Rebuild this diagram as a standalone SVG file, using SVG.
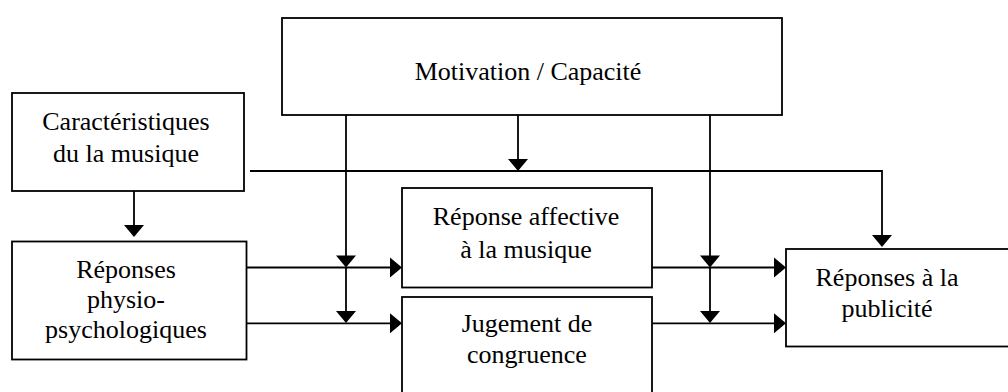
<svg xmlns="http://www.w3.org/2000/svg" width="1008" height="392" viewBox="0 0 1008 392">
<defs>
<style>
.box{fill:#fff;stroke:#000;stroke-width:1.8}
.lbl{font-family:"Liberation Serif","Times New Roman",serif;font-size:26px;fill:#000;text-anchor:middle}
.con{fill:none;stroke:#000;stroke-width:1.8}
.arr{marker-end:url(#ah)}
</style>
<marker id="ah" markerUnits="userSpaceOnUse" markerWidth="12" markerHeight="20" refX="2" refY="10" orient="auto" overflow="visible">
<path d="M0,0 L12,10 L0,20 Z" fill="#000"/>
</marker>
</defs>
<rect width="1008" height="392" fill="#fff"/>
<g id="motivation">
<rect class="box" x="282" y="18" width="500" height="97"/>
<text class="lbl" x="528" y="80">Motivation / Capacité</text>
</g>
<g id="caracteristiques">
<rect class="box" x="12" y="93" width="232" height="98"/>
<text class="lbl" x="126" y="130">Caractéristiques</text>
<text class="lbl" x="126" y="162">du la musique</text>
</g>
<g id="physio">
<rect class="box" x="12" y="241.5" width="234.5" height="118"/>
<text class="lbl" x="126" y="278">Réponses</text>
<text class="lbl" x="126" y="308">physio-</text>
<text class="lbl" x="126" y="338">psychologiques</text>
</g>
<g id="affective">
<rect class="box" x="402" y="188" width="250" height="99.5"/>
<text class="lbl" x="526" y="225">Réponse affective</text>
<text class="lbl" x="526" y="258">à la musique</text>
</g>
<g id="congruence">
<rect class="box" x="402" y="297" width="250" height="110"/>
<text class="lbl" x="527" y="331.5">Jugement de</text>
<text class="lbl" x="527" y="363">congruence</text>
</g>
<g id="publicite">
<rect class="box" x="786" y="249" width="240" height="97.5"/>
<text class="lbl" x="887" y="286">Réponses à la</text>
<text class="lbl" x="887" y="317">publicité</text>
</g>
<g id="connectors">
<path class="con arr" d="M134,191 V227"/>
<path class="con arr" d="M250,171 H882 V237"/>
<path class="con arr" d="M346,115 V257.5"/>
<path class="con arr" d="M346,267.5 V313"/>
<path class="con arr" d="M518,115 V161"/>
<path class="con arr" d="M710,115 V257.5"/>
<path class="con arr" d="M710,267.5 V313"/>
<path class="con arr" d="M246.5,267.5 H392"/>
<path class="con arr" d="M246.5,323.3 H392"/>
<path class="con arr" d="M652,267.5 H776"/>
<path class="con arr" d="M652,323.3 H776"/>
</g>
</svg>
